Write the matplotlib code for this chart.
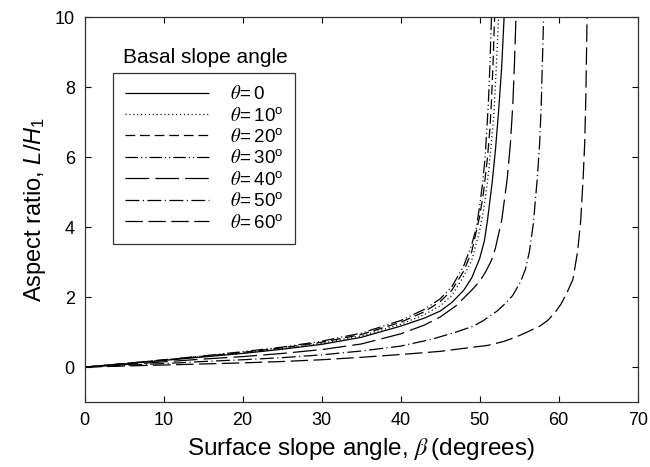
import matplotlib
matplotlib.use("Agg")
from matplotlib import pyplot as plt

plt.rcParams["font.family"] = ["Liberation Sans", "DejaVu Sans"]
plt.rcParams["mathtext.fontset"] = "custom"
plt.rcParams["mathtext.rm"] = "Liberation Sans"
plt.rcParams["mathtext.it"] = "Liberation Sans:italic"
plt.rcParams["mathtext.cal"] = "STIXGeneral:italic"
plt.rcParams["lines.scale_dashes"] = False

# surface slope angle (deg) and aspect ratio L/H1 for each basal slope angle
beta_0 = [0, 5, 10, 15, 20, 25, 30, 35, 40, 43, 45, 46.5, 48, 49, 50, 50.6, 51, 51.6, 52, 52.4, 52.8, 53.1]
ar_0 = [0, 0.09, 0.19, 0.29, 0.39, 0.51, 0.65, 0.85, 1.17, 1.4, 1.6, 1.85, 2.2, 2.55, 3.1, 3.6, 4.2, 5.3, 6.2, 7.3, 8.6, 10]

beta_10 = [0, 5, 10, 15, 20, 25, 30, 35, 40, 43, 45, 46.5, 48, 49, 50, 50.5, 51, 51.4, 51.8, 52.1, 52.4]
ar_10 = [0, 0.1, 0.2, 0.3, 0.4, 0.53, 0.68, 0.89, 1.22, 1.5, 1.75, 2.05, 2.6, 3.05, 3.9, 4.5, 5.3, 6.2, 7.2, 8.5, 10]

beta_20 = [0, 5, 10, 15, 20, 25, 30, 35, 40, 43, 45, 46.5, 48, 49, 50, 50.5, 51, 51.3, 51.5, 51.7, 51.9]
ar_20 = [0, 0.1, 0.2, 0.31, 0.42, 0.55, 0.71, 0.93, 1.28, 1.58, 1.87, 2.2, 2.75, 3.3, 4.3, 5.0, 6.0, 6.8, 7.6, 8.7, 10]

beta_30 = [0, 5, 10, 15, 20, 25, 30, 35, 40, 43, 45, 46.5, 48, 49, 49.6, 50, 50.4, 50.7, 51.1, 51.3, 51.5]
ar_30 = [0, 0.1, 0.21, 0.32, 0.44, 0.57, 0.74, 0.97, 1.33, 1.65, 1.95, 2.3, 2.9, 3.5, 4.0, 4.6, 5.3, 6.0, 7.5, 8.6, 10]

beta_40 = [0, 5, 10, 15, 20, 25, 30, 35, 40, 43, 45, 47, 49, 50, 50.7, 51.5, 52, 52.8, 53.5, 53.9, 54.2, 54.4, 54.6]
ar_40 = [0, 0.07, 0.15, 0.23, 0.3, 0.39, 0.5, 0.66, 0.95, 1.2, 1.43, 1.75, 2.2, 2.45, 2.7, 3.05, 3.4, 4.2, 5.4, 6.4, 7.5, 8.6, 10]

beta_50 = [0, 5, 10, 15, 20, 25, 30, 35, 40, 44, 47, 49.2, 50.4, 52.2, 53.4, 54.2, 55.2, 55.8, 56.3, 56.8, 57.3, 57.6, 57.8, 58.1]
ar_50 = [0, 0.05, 0.1, 0.16, 0.21, 0.27, 0.35, 0.46, 0.6, 0.8, 1.0, 1.17, 1.32, 1.6, 1.85, 2.05, 2.45, 2.8, 3.3, 4.1, 5.4, 6.4, 7.5, 10]

beta_60 = [0, 5, 10, 15, 20, 25, 30, 35, 40, 45, 49.2, 51, 53, 54.5, 56, 57.6, 58.6, 59.5, 60.3, 61, 61.8, 62.4, 62.8, 63.1, 63.3, 63.45, 63.6]
ar_60 = [0, 0.03, 0.06, 0.09, 0.12, 0.16, 0.21, 0.28, 0.36, 0.45, 0.57, 0.62, 0.73, 0.85, 1.0, 1.17, 1.33, 1.55, 1.8, 2.1, 2.5, 3.3, 4.2, 5.4, 6.4, 7.8, 10]

labels = [r"$\mathcal{\theta}\!= 0$", r"$\mathcal{\theta}\!= 10^{\rm o}$", r"$\mathcal{\theta}\!= 20^{\rm o}$",
          r"$\mathcal{\theta}\!= 30^{\rm o}$", r"$\mathcal{\theta}\!= 40^{\rm o}$", r"$\mathcal{\theta}\!= 50^{\rm o}$",
          r"$\mathcal{\theta}\!= 60^{\rm o}$"]

styles = [
    (0, ()),
    (0, (0.8, 2.0)),
    (0, (7, 3.5)),
    (0, (9, 2.2, 0.8, 2.2, 0.8, 2.2)),
    (0, (17, 4.5)),
    (0, (10, 2.5, 0.8, 2.5)),
    (0, (12.5, 4)),
]

series = [(beta_0, ar_0), (beta_10, ar_10), (beta_20, ar_20), (beta_30, ar_30),
          (beta_40, ar_40), (beta_50, ar_50), (beta_60, ar_60)]

fig = plt.figure(figsize=(6.5, 4.67), dpi=100)
ax = fig.add_axes([0.130, 0.139, 0.851, 0.824])

for (b, a), lab, ls in zip(series, labels, styles):
    ax.plot(b, a, color="black", lw=0.9, linestyle=ls, label=lab)

ax.set_xlim(0, 70)
ax.set_ylim(-1, 10)
ax.set_xticks(range(0, 71, 10))
ax.set_yticks(range(0, 11, 2))
ax.tick_params(direction="in", length=4, width=0.8, top=True, right=True, labelsize=13, pad=7)
for s in ax.spines.values():
    s.set_linewidth(0.9)
    s.set_color("#333333")

ax.set_xlabel(r"Surface slope angle, $\mathcal{\beta}\,$(degrees)", fontsize=17.5, labelpad=5)
ax.set_ylabel(r"Aspect ratio, $L/H_1$", fontsize=17, labelpad=5)

leg = ax.legend(loc="upper left", bbox_to_anchor=(0.051, 0.855), borderaxespad=0,
                fontsize=13.5, handlelength=4.5, handletextpad=1.1, labelspacing=0.18,
                fancybox=False, frameon=True, borderpad=0.65)
leg.get_frame().set_edgecolor("black")
leg.get_frame().set_linewidth(0.9)
ax.text(0.218, 0.896, "Basal slope angle", transform=ax.transAxes, fontsize=15,
        ha="center", va="center")

fig.savefig("out.png", dpi=100)
